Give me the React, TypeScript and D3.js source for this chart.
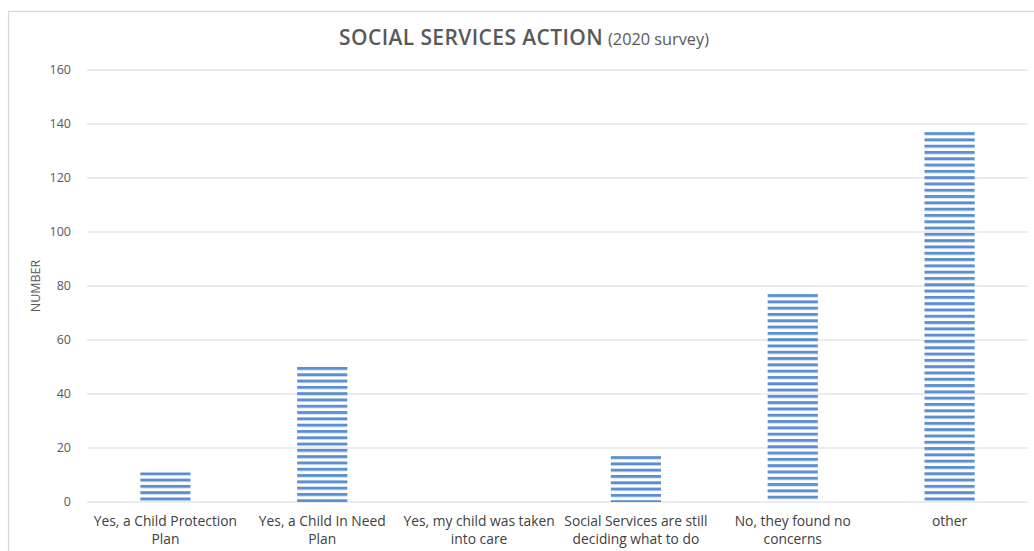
import React from "react";
import * as d3 from "d3";

const categories: string[][] = [
  ["Yes, a Child Protection", "Plan"],
  ["Yes, a Child In Need", "Plan"],
  ["Yes, my child was taken", "into care"],
  ["Social Services are still", "deciding what to do"],
  ["No, they found no", "concerns"],
  ["other"],
];
const values: number[] = [11, 50, 0, 17, 77, 137];
const yTicks: number[] = [0, 20, 40, 60, 80, 100, 120, 140, 160];

const W = 1034;
const H = 551;
const margin = { left: 87, right: 6, top: 70, bottom: 49 };
const FONT = "'Open Sans', Lato, sans-serif";

export default function App() {
  const keys = categories.map((_, i) => String(i));
  const x = d3
    .scaleBand<string>()
    .domain(keys)
    .range([margin.left, W - margin.right])
    .paddingInner(0.68)
    .paddingOuter(0.34);
  const y = d3
    .scaleLinear()
    .domain([0, 160])
    .range([H - margin.bottom, margin.top]);
  const y0 = y(0);
  const period = 6.3;

  return (
    <svg
      width={W}
      height={H}
      style={{ position: "absolute", left: 0, top: 0, background: "#fff" }}
      fontFamily={FONT}
    >
      <defs>
        {values.map((v, i) => (
          <pattern
            key={i}
            id={`stripes${i}`}
            patternUnits="userSpaceOnUse"
            width={10}
            height={period}
            y={y(v)}
          >
            <rect x={0} y={0} width={10} height={3} fill="#5b8fd2" />
          </pattern>
        ))}
      </defs>
      <rect
        x={8.5}
        y={11.5}
        width={W + 10}
        height={H + 10}
        fill="none"
        stroke="#d6d6d6"
        strokeWidth={1.2}
      />
      <text x={524} y={45} textAnchor="middle" fill="#595959">
        <tspan fontSize={21} fontWeight={600} letterSpacing={0.4}>SOCIAL SERVICES ACTION</tspan>
        <tspan fontSize={16.3} dx={5}>(2020 survey)</tspan>
      </text>
      {yTicks.map((t) => (
        <g key={t}>
          <line
            x1={margin.left}
            x2={W - margin.right}
            y1={y(t)}
            y2={y(t)}
            stroke="#d9d9d9"
            strokeWidth={1}
          />
          <text
            x={71}
            y={y(t)}
            dy="0.35em"
            textAnchor="end"
            fontSize={12.5}
            fill="#595959"
          >
            {t}
          </text>
        </g>
      ))}
      <text
        transform={`translate(40,${(y(0) + y(160)) / 2}) rotate(-90)`}
        textAnchor="middle"
        fontSize={12.5}
        fill="#595959"
      >
        NUMBER
      </text>
      {values.map((v, i) =>
        v > 0 ? (
          <rect
            key={i}
            x={x(String(i))}
            y={y(v)}
            width={x.bandwidth()}
            height={y0 - y(v)}
            fill={`url(#stripes${i})`}
          />
        ) : null
      )}
      {categories.map((lines, i) => (
        <text
          key={i}
          x={(x(String(i)) as number) + x.bandwidth() / 2}
          y={526}
          textAnchor="middle"
          fontSize={13.8}
          fill="#404040"
        >
          {lines.map((l, j) => (
            <tspan key={j} x={(x(String(i)) as number) + x.bandwidth() / 2} dy={j === 0 ? 0 : 17.5}>
              {l}
            </tspan>
          ))}
        </text>
      ))}
    </svg>
  );
}
